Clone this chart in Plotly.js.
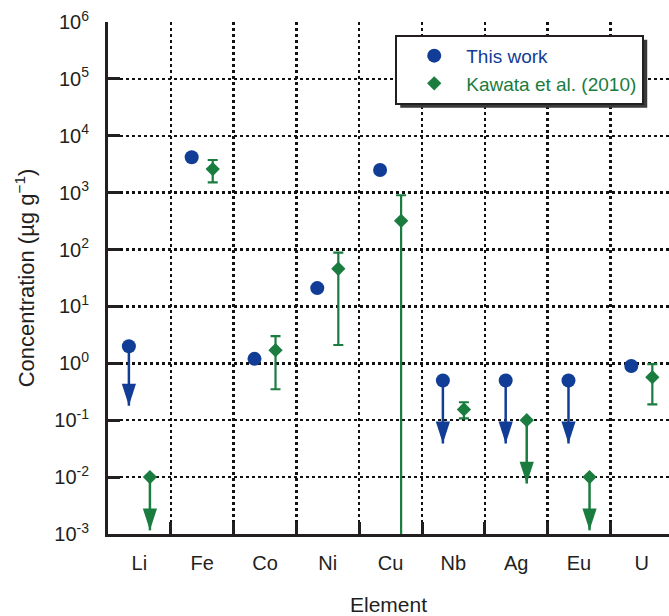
<!DOCTYPE html>
<html><head><meta charset="utf-8">
<script src="https://cdn.plot.ly/plotly-3.0.1.min.js"></script>
<style>html,body{margin:0;padding:0;background:#fff}</style>
</head><body><div id="chart" style="width:669px;height:616px"></div>
<script>
// ---- data ----
const elements = ['Li','Fe','Co','Ni','Cu','Nb','Ag','Eu','U'];
// This work (upper limits marked)
const thisWork = [2, 4200, 1.2, 21, 2500, 0.5, 0.5, 0.5, 0.9];
const thisWorkIsLimit = [true, false, false, false, false, true, true, true, false];
const thisWorkArrowEnd = [0.18, null, null, null, null, 0.039, 0.039, 0.039, null];
// Kawata et al. (2010)
const kawata = [0.01, 2600, 1.7, 46, 320, 0.155, 0.1, 0.01, 0.57];
const kawataHigh = [null, 3750, 3.0, 88, 900, 0.207, null, null, 0.97];
const kawataLow = [null, 1520, 0.35, 2.1, 0.0001, 0.108, null, null, 0.19];
const kawataIsLimit = [true, false, false, false, false, false, true, true, false];
const kawataArrowEnd = [0.00116, null, null, null, null, null, 0.0077, 0.00116, null];
// axis ticks
const decadeExponents = [-3, -2, -1, 0, 1, 2, 3, 4, 5, 6];

// ---- styles ----
const BLUE = '#123d96';
const GREEN = '#1a7c3f';
const INK = '#231f20';
const FONT = 'Liberation Sans, Arial, sans-serif';

const idx = elements.map((_, i) => i);
const bLim = idx.filter(i => thisWorkIsLimit[i]);
const kMeas = idx.filter(i => !kawataIsLimit[i]);
const kLim = idx.filter(i => kawataIsLimit[i]);

const traces = [
  { // This work: points + limit stems
    type: 'scatter', mode: 'markers', name: '<span style="color:' + BLUE + '">This work</span>',
    x: elements, y: thisWork, offsetgroup: 'b',
    marker: {symbol: 'circle', size: 14, color: BLUE},
    error_y: {type: 'data', symmetric: false,
      array: idx.map(() => 0),
      arrayminus: idx.map(i => thisWorkIsLimit[i] ? thisWork[i] - thisWorkArrowEnd[i] : 0),
      width: 0, thickness: 2.5, color: BLUE}
  },
  { // This work arrowheads
    type: 'scatter', mode: 'markers', showlegend: false, offsetgroup: 'b',
    x: bLim.map(i => elements[i]), y: bLim.map(i => thisWorkArrowEnd[i]),
    marker: {symbol: 'arrow', angle: 180, size: 23, color: BLUE}
  },
  { // Kawata measured with error bars
    type: 'scatter', mode: 'markers', name: '<span style="color:' + GREEN + '">Kawata et al. (2010)</span>',
    x: kMeas.map(i => elements[i]), y: kMeas.map(i => kawata[i]), offsetgroup: 'k',
    marker: {symbol: 'diamond', size: 11, color: GREEN},
    error_y: {type: 'data', symmetric: false,
      array: kMeas.map(i => kawataHigh[i] - kawata[i]),
      arrayminus: kMeas.map(i => kawata[i] - kawataLow[i]),
      width: 5, thickness: 2.2, color: GREEN}
  },
  { // Kawata upper limits
    type: 'scatter', mode: 'markers', showlegend: false, offsetgroup: 'k',
    x: kLim.map(i => elements[i]), y: kLim.map(i => kawata[i]),
    marker: {symbol: 'diamond', size: 11, color: GREEN},
    error_y: {type: 'data', symmetric: false,
      array: kLim.map(() => 0),
      arrayminus: kLim.map(i => kawata[i] - kawataArrowEnd[i]),
      width: 0, thickness: 2.5, color: GREEN}
  },
  { // Kawata arrowheads
    type: 'scatter', mode: 'markers', showlegend: false, offsetgroup: 'k',
    x: kLim.map(i => elements[i]), y: kLim.map(i => kawataArrowEnd[i]),
    marker: {symbol: 'arrow', angle: 180, size: 23, color: GREEN}
  }
];

const layout = {
  width: 669, height: 616,
  margin: {l: 108, r: 0, t: 22, b: 82},
  paper_bgcolor: '#fff', plot_bgcolor: '#fff',
  font: {family: FONT, size: 20, color: INK},
  scattermode: 'group', scattergap: 0.33,
  showlegend: true,
  legend: {x: 0.512, y: 0.975, xanchor: 'left', yanchor: 'top',
    bgcolor: '#fff', bordercolor: INK, borderwidth: 2,
    font: {family: FONT, size: 19}, itemwidth: 54, indentation: 5,
    entrywidth: 222, entrywidthmode: 'pixels'},
  xaxis: {
    type: 'category', categoryorder: 'array', categoryarray: elements,
    range: [-0.5, 8.433], tickson: 'boundaries',
    ticks: 'inside', ticklen: 12, tickwidth: 3, tickcolor: INK,
    showline: true, linewidth: 3, linecolor: INK, mirror: false,
    showgrid: true, gridcolor: '#111', gridwidth: 2.5, griddash: '3px,3px',
    ticklabelstandoff: 9, tickfont: {size: 20},
    title: {text: 'Element', font: {size: 21}, standoff: 27},
    automargin: false, zeroline: false
  },
  yaxis: {
    type: 'log', range: [-3, 6],
    tickvals: decadeExponents.map(e => Math.pow(10, e)),
    ticktext: decadeExponents.map(e => '10<sup>' + e + '</sup>'),
    ticks: 'inside', ticklen: 12, tickwidth: 3, tickcolor: INK,
    showline: true, linewidth: 3, linecolor: INK, mirror: false,
    showgrid: true, gridcolor: '#111', gridwidth: 2.5, griddash: '3px,3px',
    ticklabelstandoff: 12, tickfont: {size: 20},
    title: {text: 'Concentration (µg g<sup>−1</sup>)', font: {size: 22}, standoff: 14},
    automargin: false, zeroline: false
  }
};

Plotly.newPlot('chart', traces, layout, {displayModeBar: false, staticPlot: true}).then(gd => {
  const bg = gd.querySelector('.legend .bg');
  if (!bg) return;
  const r = bg.getBoundingClientRect();
  const c = gd.getBoundingClientRect();
  const s = gd._fullLayout._size;
  const px2x = p => (p - c.left - s.l) / s.w;
  const px2y = p => 1 - (p - c.top - s.t) / s.h;
  const off = 4;
  return Plotly.relayout(gd, {shapes: [{
    type: 'rect', xref: 'paper', yref: 'paper', layer: 'above',
    x0: px2x(r.left + off), x1: px2x(r.right + off),
    y0: px2y(r.bottom + off), y1: px2y(r.top + off),
    fillcolor: '#3a3a3a', line: {width: 0}
  }]});
});
</script>
</body></html>
